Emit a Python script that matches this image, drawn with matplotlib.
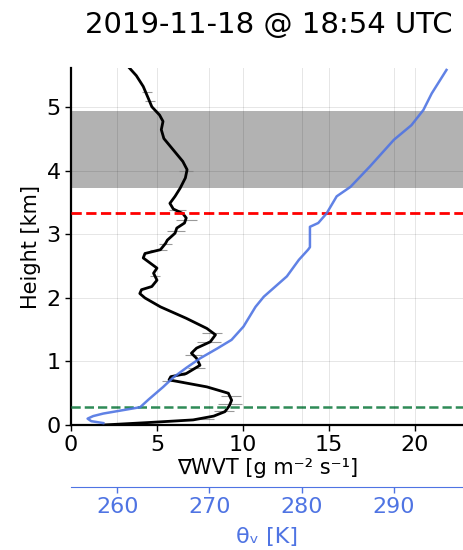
import numpy as np
import matplotlib.pyplot as plt

# Gradient of water vapour transport profile (smoothed)
wvt_height = [0.0, 0.04, 0.08, 0.14, 0.21, 0.30, 0.39, 0.50, 0.60, 0.68, 0.71, 0.76,
              0.81, 0.94, 1.05, 1.13, 1.21, 1.31, 1.42, 1.52, 1.68, 1.86, 2.00, 2.07,
              2.13, 2.18, 2.28, 2.39, 2.47, 2.55, 2.63, 2.70, 2.76, 2.86, 2.91, 3.02,
              3.10, 3.18, 3.26, 3.33, 3.40, 3.49, 3.60, 3.73, 3.89, 4.02, 4.15, 4.33,
              4.51, 4.65, 4.78, 4.88, 5.01, 5.14, 5.33, 5.50, 5.62]
wvt = [1.9, 4.6, 7.1, 8.3, 8.95, 9.2, 9.34, 9.15, 7.9, 6.3, 5.7, 5.8,
       6.7, 7.5, 7.3, 7.0, 7.3, 8.1, 8.4, 7.9, 6.7, 5.2, 4.3, 4.0,
       4.1, 4.7, 5.0, 4.8, 5.0, 4.6, 4.2, 4.3, 5.2, 5.5, 5.6, 6.05,
       6.15, 6.6, 6.7, 6.5, 5.95, 5.75, 6.05, 6.35, 6.65, 6.75, 6.5, 5.95,
       5.4, 5.25, 5.35, 5.15, 4.7, 4.5, 4.2, 3.8, 3.4]

# Spread of the unsmoothed profile at a few heights
err_height = [0.10, 0.22, 0.33, 0.45, 0.70, 0.78, 0.90, 1.10, 1.30, 1.45,
              2.35, 2.75, 2.85, 3.05, 3.22, 3.38, 4.00, 5.10, 5.25]
err_center = [7.8, 8.9, 9.25, 9.3, 5.9, 6.2, 7.3, 7.1, 8.0, 8.2,
              4.9, 5.1, 5.5, 6.1, 6.7, 6.2, 6.7, 4.6, 4.4]
err_half = [0.5, 0.6, 0.7, 0.6, 0.6, 0.4, 0.5, 0.5, 0.7, 0.6,
            0.3, 0.5, 0.4, 0.5, 0.6, 0.5, 0.4, 0.3, 0.3]

# Virtual potential temperature profile
theta_height = [0.03, 0.06, 0.10, 0.14, 0.18, 0.22, 0.28, 0.40, 0.60, 0.75, 0.90,
                1.05, 1.20, 1.34, 1.55, 1.86, 2.02, 2.34, 2.60, 2.76, 2.80, 3.12,
                3.18, 3.33, 3.60, 3.75, 4.07, 4.49, 4.72, 4.96, 5.22, 5.59]
theta_v = [258.5, 257.2, 256.8, 257.4, 258.5, 260.1, 262.5, 263.4, 265.0, 266.1, 267.5,
           269.0, 270.8, 272.4, 273.7, 275.0, 275.9, 278.4, 279.7, 280.7, 280.9, 280.9,
           281.8, 282.7, 283.8, 285.3, 287.4, 290.0, 291.9, 293.2, 294.1, 295.7]

cloud_base, cloud_top = 3.73, 4.95
red_level = 3.33
green_level = 0.28

blue = '#4f74e3'
grid_style = dict(color='black', alpha=0.1, linewidth=0.7)

fig = plt.figure(figsize=(4.64, 5.5), dpi=100)
ax = fig.add_axes([71 / 464, 0.2273, 1 - 71 / 464, 0.649])

ax.grid(True, **grid_style)
ax.set_axisbelow(True)

ax.axhspan(cloud_base, cloud_top, color='gray', alpha=0.6, linewidth=0, zorder=0.5)
ax.errorbar(err_center, err_height, xerr=err_half, fmt='none',
            ecolor='gray', elinewidth=0.8, alpha=0.8, zorder=2)
ax.plot(wvt, wvt_height, color='black', linewidth=2.0, zorder=3)
ax.axhline(red_level, color='red', linestyle='--', linewidth=2.0, zorder=4)
ax.axhline(green_level, color='seagreen', linestyle='--', linewidth=1.8, zorder=4)

ax.set_xlim(0, 22.85)
ax.set_ylim(0, 5.62)
ax.set_xticks([0, 5, 10, 15, 20])
ax.set_yticks([0, 1, 2, 3, 4, 5])
ax.tick_params(labelsize=16, length=4, width=1)
ax.set_xlabel('∇WVT [g m⁻² s⁻¹]', fontsize=15, labelpad=2)
ax.set_ylabel('Height [km]', fontsize=15, labelpad=4)
for side in ['top', 'right']:
    ax.spines[side].set_visible(False)
for side in ['left', 'bottom']:
    ax.spines[side].set_linewidth(1.6)

# Second x axis for theta_v, drawn below the main one
ax2 = ax.twiny()
ax2.plot(theta_v, theta_height, color=blue, linewidth=1.8, alpha=0.9, zorder=1)
ax2.set_xlim(255.0, 297.6)
ax2.set_xticks([260, 270, 280, 290])
ax2.grid(True, axis='x', **grid_style)
ax2.set_axisbelow(True)
ax2.xaxis.set_ticks_position('bottom')
ax2.xaxis.set_label_position('bottom')
ax2.spines['bottom'].set_position(('outward', 44.6))
for side in ['top', 'right', 'left']:
    ax2.spines[side].set_visible(False)
ax2.spines['bottom'].set_color(blue)
ax2.tick_params(axis='x', colors=blue, labelcolor=blue, labelsize=16, length=4, width=1)
ax2.set_xlabel('θᵥ [K]', fontsize=16, color=blue, labelpad=7)

fig.suptitle('2019-11-18 @ 18:54 UTC', fontsize=21, x=0.58, y=0.98)

fig.savefig('out.png', dpi=100)
